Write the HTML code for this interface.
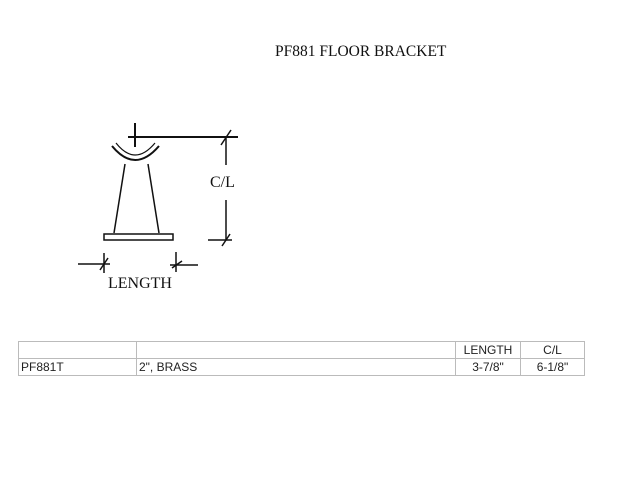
<!DOCTYPE html>
<html><head><style>
body{margin:0;width:626px;height:500px;background:#fff;position:relative;overflow:hidden;font-family:"Liberation Sans",sans-serif}
.t{position:absolute;font-family:"Liberation Serif",serif;color:#111}
table{position:absolute;left:18px;top:341px;border-collapse:collapse;font-size:12px;color:#222}
td{border:1px solid #bbb;height:16px;padding:0 2px;line-height:16px}
</style></head><body>
<div class="t" style="left:275px;top:43px;font-size:15.5px">PF881 FLOOR BRACKET</div>
<div class="t" style="left:210px;top:174px;font-size:16px">C/L</div>
<div class="t" style="left:108px;top:275px;font-size:16px">LENGTH</div>
<svg width="626" height="340" style="position:absolute;left:0;top:0" fill="none" stroke="#111" stroke-width="1.5">
<line x1="135" y1="123" x2="135" y2="147" stroke-width="2"/>
<line x1="128" y1="137" x2="238" y2="137" stroke-width="2"/>
<line x1="221" y1="145" x2="231" y2="130"/>
<line x1="226" y1="137" x2="226" y2="165"/>
<line x1="226" y1="200" x2="226" y2="240"/>
<line x1="208" y1="240" x2="232" y2="240"/>
<line x1="222" y1="246" x2="230" y2="234"/>
<path d="M112 146 Q135 174 159 146" stroke-width="2"/>
<path d="M116 143 Q135 167 155 143" stroke-width="1.2"/>
<line x1="125" y1="164" x2="114" y2="233"/>
<line x1="148" y1="164" x2="159" y2="233"/>
<rect x="104" y="234" width="69" height="6" stroke-width="1.5"/>
<line x1="104" y1="253" x2="104" y2="273"/>
<line x1="78" y1="264" x2="110" y2="264"/>
<line x1="100" y1="270" x2="108" y2="258"/>
<line x1="176" y1="252" x2="176" y2="272"/>
<line x1="170" y1="265" x2="198" y2="265"/>
<line x1="172" y1="268" x2="182" y2="261"/>
</svg>
<table>
<tr><td style="width:113px"></td><td style="width:314px"></td><td style="width:60px;text-align:center">LENGTH</td><td style="width:59px;text-align:center">C/L</td></tr>
<tr><td>PF881T</td><td>2", BRASS</td><td style="text-align:center">3-7/8"</td><td style="text-align:center">6-1/8"</td></tr>
</table>
</body></html>
